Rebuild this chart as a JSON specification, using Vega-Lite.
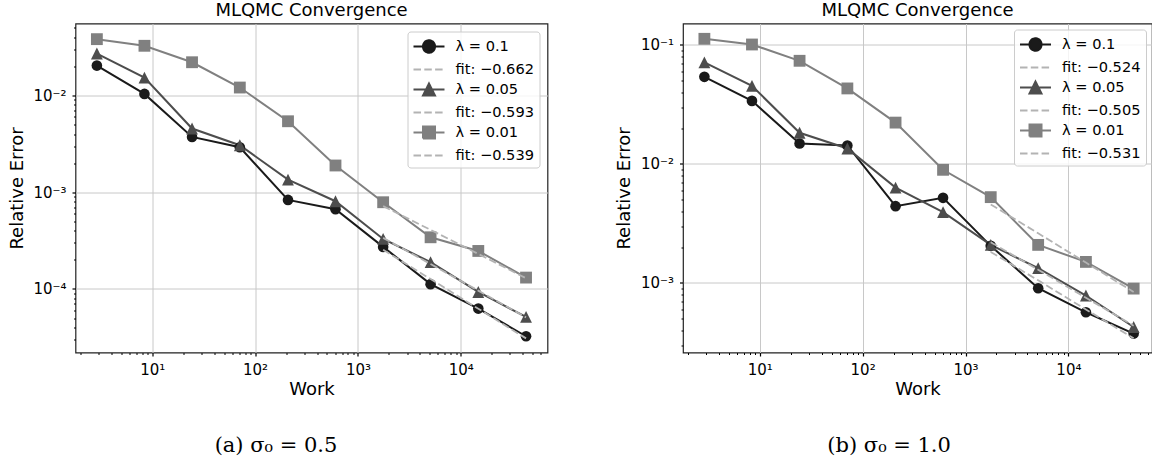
{
  "$schema": "https://vega.github.io/schema/vega-lite/v6.json",
  "padding": {"left": 7.5, "top": 0.5, "right": 0, "bottom": 0},
  "spacing": 66.5,
  "datasets": {
    "a": [
      {"series": "λ = 0.1", "kind": "data", "work": 2.90, "err": 0.0204},
      {"series": "λ = 0.1", "kind": "data", "work": 8.41, "err": 0.0104},
      {"series": "λ = 0.1", "kind": "data", "work": 24.4, "err": 0.00373},
      {"series": "λ = 0.1", "kind": "data", "work": 71.1, "err": 0.00292},
      {"series": "λ = 0.1", "kind": "data", "work": 209, "err": 0.000833},
      {"series": "λ = 0.1", "kind": "data", "work": 605, "err": 0.000667},
      {"series": "λ = 0.1", "kind": "data", "work": 1758, "err": 0.000272},
      {"series": "λ = 0.1", "kind": "data", "work": 5082, "err": 0.000112},
      {"series": "λ = 0.1", "kind": "data", "work": 14790, "err": 0.0000626},
      {"series": "λ = 0.1", "kind": "data", "work": 43050, "err": 0.0000324},
      {"series": "λ = 0.05", "kind": "data", "work": 2.90, "err": 0.0272},
      {"series": "λ = 0.05", "kind": "data", "work": 8.41, "err": 0.0153},
      {"series": "λ = 0.05", "kind": "data", "work": 24.4, "err": 0.00456},
      {"series": "λ = 0.05", "kind": "data", "work": 71.1, "err": 0.00306},
      {"series": "λ = 0.05", "kind": "data", "work": 209, "err": 0.00135},
      {"series": "λ = 0.05", "kind": "data", "work": 605, "err": 0.000807},
      {"series": "λ = 0.05", "kind": "data", "work": 1758, "err": 0.000329},
      {"series": "λ = 0.05", "kind": "data", "work": 5082, "err": 0.000189},
      {"series": "λ = 0.05", "kind": "data", "work": 14790, "err": 0.000093},
      {"series": "λ = 0.05", "kind": "data", "work": 43050, "err": 0.0000513},
      {"series": "λ = 0.01", "kind": "data", "work": 2.90, "err": 0.0383},
      {"series": "λ = 0.01", "kind": "data", "work": 8.41, "err": 0.0327},
      {"series": "λ = 0.01", "kind": "data", "work": 24.4, "err": 0.0221},
      {"series": "λ = 0.01", "kind": "data", "work": 71.1, "err": 0.0121},
      {"series": "λ = 0.01", "kind": "data", "work": 209, "err": 0.00542},
      {"series": "λ = 0.01", "kind": "data", "work": 605, "err": 0.00189},
      {"series": "λ = 0.01", "kind": "data", "work": 1758, "err": 0.000788},
      {"series": "λ = 0.01", "kind": "data", "work": 5082, "err": 0.000342},
      {"series": "λ = 0.01", "kind": "data", "work": 14790, "err": 0.000247},
      {"series": "λ = 0.01", "kind": "data", "work": 43050, "err": 0.000131},
      {"series": "fit: −0.662", "kind": "fit", "work": 1758, "err": 0.000254},
      {"series": "fit: −0.662", "kind": "fit", "work": 5082, "err": 0.0001265},
      {"series": "fit: −0.662", "kind": "fit", "work": 14790, "err": 0.0000624},
      {"series": "fit: −0.662", "kind": "fit", "work": 43050, "err": 0.0000308},
      {"series": "fit: −0.593", "kind": "fit", "work": 1758, "err": 0.000337},
      {"series": "fit: −0.593", "kind": "fit", "work": 5082, "err": 0.000181},
      {"series": "fit: −0.593", "kind": "fit", "work": 14790, "err": 0.000096},
      {"series": "fit: −0.593", "kind": "fit", "work": 43050, "err": 0.0000508},
      {"series": "fit: −0.539", "kind": "fit", "work": 1758, "err": 0.000719},
      {"series": "fit: −0.539", "kind": "fit", "work": 5082, "err": 0.000408},
      {"series": "fit: −0.539", "kind": "fit", "work": 14790, "err": 0.00023},
      {"series": "fit: −0.539", "kind": "fit", "work": 43050, "err": 0.000129}
    ],
    "b": [
      {"series": "λ = 0.1", "kind": "data", "work": 2.90, "err": 0.0538},
      {"series": "λ = 0.1", "kind": "data", "work": 8.41, "err": 0.0338},
      {"series": "λ = 0.1", "kind": "data", "work": 24.4, "err": 0.01483},
      {"series": "λ = 0.1", "kind": "data", "work": 71.1, "err": 0.01426},
      {"series": "λ = 0.1", "kind": "data", "work": 209, "err": 0.00441},
      {"series": "λ = 0.1", "kind": "data", "work": 605, "err": 0.00518},
      {"series": "λ = 0.1", "kind": "data", "work": 1758, "err": 0.002047},
      {"series": "λ = 0.1", "kind": "data", "work": 5082, "err": 0.000902},
      {"series": "λ = 0.1", "kind": "data", "work": 14790, "err": 0.000566},
      {"series": "λ = 0.1", "kind": "data", "work": 43050, "err": 0.000375},
      {"series": "λ = 0.05", "kind": "data", "work": 2.90, "err": 0.0711},
      {"series": "λ = 0.05", "kind": "data", "work": 8.41, "err": 0.0452},
      {"series": "λ = 0.05", "kind": "data", "work": 24.4, "err": 0.01824},
      {"series": "λ = 0.05", "kind": "data", "work": 71.1, "err": 0.01346},
      {"series": "λ = 0.05", "kind": "data", "work": 209, "err": 0.00632},
      {"series": "λ = 0.05", "kind": "data", "work": 605, "err": 0.00393},
      {"series": "λ = 0.05", "kind": "data", "work": 1758, "err": 0.002085},
      {"series": "λ = 0.05", "kind": "data", "work": 5082, "err": 0.001328},
      {"series": "λ = 0.05", "kind": "data", "work": 14790, "err": 0.000783},
      {"series": "λ = 0.05", "kind": "data", "work": 43050, "err": 0.000426},
      {"series": "λ = 0.01", "kind": "data", "work": 2.90, "err": 0.1123},
      {"series": "λ = 0.01", "kind": "data", "work": 8.41, "err": 0.1006},
      {"series": "λ = 0.01", "kind": "data", "work": 24.4, "err": 0.0734},
      {"series": "λ = 0.01", "kind": "data", "work": 71.1, "err": 0.043},
      {"series": "λ = 0.01", "kind": "data", "work": 209, "err": 0.0222},
      {"series": "λ = 0.01", "kind": "data", "work": 605, "err": 0.00891},
      {"series": "λ = 0.01", "kind": "data", "work": 1758, "err": 0.00525},
      {"series": "λ = 0.01", "kind": "data", "work": 5082, "err": 0.002085},
      {"series": "λ = 0.01", "kind": "data", "work": 14790, "err": 0.0015},
      {"series": "λ = 0.01", "kind": "data", "work": 43050, "err": 0.000895},
      {"series": "fit: −0.524", "kind": "fit", "work": 1758, "err": 0.00182},
      {"series": "fit: −0.524", "kind": "fit", "work": 5082, "err": 0.00105},
      {"series": "fit: −0.524", "kind": "fit", "work": 14790, "err": 0.000598},
      {"series": "fit: −0.524", "kind": "fit", "work": 43050, "err": 0.000342},
      {"series": "fit: −0.505", "kind": "fit", "work": 1758, "err": 0.00219},
      {"series": "fit: −0.505", "kind": "fit", "work": 5082, "err": 0.00129},
      {"series": "fit: −0.505", "kind": "fit", "work": 14790, "err": 0.00075},
      {"series": "fit: −0.505", "kind": "fit", "work": 43050, "err": 0.000437},
      {"series": "fit: −0.531", "kind": "fit", "work": 1758, "err": 0.00456},
      {"series": "fit: −0.531", "kind": "fit", "work": 5082, "err": 0.00261},
      {"series": "fit: −0.531", "kind": "fit", "work": 14790, "err": 0.00148},
      {"series": "fit: −0.531", "kind": "fit", "work": 43050, "err": 0.000838}
    ]
  },
  "hconcat": [
    {
      "width": 472,
      "height": 329,
      "title": "MLQMC Convergence",
      "data": {"name": "a"},
      "resolve": {"axis": {"x": "independent", "y": "independent"}},
      "layer": [
        {
          "transform": [{"filter": "datum.kind === 'data'"}],
          "mark": {"type": "line", "strokeWidth": 2},
          "encoding": {
            "x": {"field": "work", "type": "quantitative", "scale": {"type": "log", "domain": [1.797, 69590], "nice": false},
              "axis": {"orient": "bottom", "values": [10, 100, 1000, 10000], "labelExpr": "datum.value < 50 ? '10¹' : datum.value < 500 ? '10²' : datum.value < 5000 ? '10³' : '10⁴'", "grid": true, "ticks": true, "tickSize": 3.5, "tickWidth": 1.2, "labelPadding": 6, "title": "Work", "titlePadding": 3, "labelFlush": false, "labelOverlap": false}},
            "y": {"field": "err", "type": "quantitative", "scale": {"type": "log", "domain": [0.000022, 0.0556], "nice": false},
              "axis": {"orient": "left", "values": [0.0001, 0.001, 0.01], "labelExpr": "datum.value < 0.0005 ? '10⁻⁴' : datum.value < 0.005 ? '10⁻³' : '10⁻²'", "grid": true, "ticks": true, "tickSize": 3.5, "tickWidth": 1.2, "labelPadding": 6, "title": "Relative Error", "titlePadding": 6.5, "labelOverlap": false}},
            "color": {"field": "series", "type": "nominal", "scale": {"domain": ["λ = 0.1", "λ = 0.05", "λ = 0.01"], "range": ["#1a1a1a", "#4d4d4d", "#808080"]}, "legend": null}
          }
        },
        {
          "transform": [{"filter": "datum.series === 'λ = 0.1'"}],
          "mark": {"type": "point", "shape": "circle", "filled": true, "size": 113, "color": "#1a1a1a", "opacity": 1},
          "encoding": {
            "x": {"field": "work", "type": "quantitative", "scale": {"type": "log", "domain": [1.797, 69590], "nice": false}, "axis": null},
            "y": {"field": "err", "type": "quantitative", "scale": {"type": "log", "domain": [0.000022, 0.0556], "nice": false}, "axis": null}
          }
        },
        {
          "transform": [{"filter": "datum.series === 'λ = 0.05'"}],
          "mark": {"type": "point", "shape": "M0,-1L1,1L-1,1Z", "filled": true, "size": 140, "color": "#4d4d4d", "opacity": 1},
          "encoding": {
            "x": {"field": "work", "type": "quantitative", "scale": {"type": "log", "domain": [1.797, 69590], "nice": false}, "axis": null},
            "y": {"field": "err", "type": "quantitative", "scale": {"type": "log", "domain": [0.000022, 0.0556], "nice": false}, "axis": null}
          }
        },
        {
          "transform": [{"filter": "datum.series === 'λ = 0.01'"}],
          "mark": {"type": "point", "shape": "square", "filled": true, "size": 140, "color": "#808080", "opacity": 1},
          "encoding": {
            "x": {"field": "work", "type": "quantitative", "scale": {"type": "log", "domain": [1.797, 69590], "nice": false}, "axis": null},
            "y": {"field": "err", "type": "quantitative", "scale": {"type": "log", "domain": [0.000022, 0.0556], "nice": false}, "axis": null}
          }
        },
        {
          "transform": [{"filter": "datum.kind === 'fit'"}],
          "mark": {"type": "line", "strokeWidth": 1.8, "strokeDash": [7.5, 3.3], "color": "#b3b3b3"},
          "encoding": {
            "x": {"field": "work", "type": "quantitative", "scale": {"type": "log", "domain": [1.797, 69590], "nice": false},
              "axis": {"orient": "bottom", "values": [2,3,4,5,6,7,8,9,20,30,40,50,60,70,80,90,200,300,400,500,600,700,800,900,2000,3000,4000,5000,6000,7000,8000,9000,20000,30000,40000,50000,60000], "labels": false, "grid": false, "ticks": true, "tickSize": 2, "tickWidth": 1, "title": "(a)  σ₀ = 0.5", "titleFont": "DejaVu Serif", "titleFontSize": 21, "titleFontWeight": "normal", "titleX": 200, "titleY": 98.7, "titleAlign": "center", "titleBaseline": "alphabetic", "titleAngle": 0}},
            "y": {"field": "err", "type": "quantitative", "scale": {"type": "log", "domain": [0.000022, 0.0556], "nice": false},
              "axis": {"orient": "left", "values": [0.00003,0.00004,0.00005,0.00006,0.00007,0.00008,0.00009,0.0002,0.0003,0.0004,0.0005,0.0006,0.0007,0.0008,0.0009,0.002,0.003,0.004,0.005,0.006,0.007,0.008,0.009,0.02,0.03,0.04,0.05], "labels": false, "grid": false, "ticks": true, "tickSize": 2, "tickWidth": 1, "title": null}},
            "detail": {"field": "series", "type": "nominal"}
          }
        },
        {
          "mark": {"type": "point", "opacity": 0, "filled": true},
          "encoding": {
            "x": {"field": "work", "type": "quantitative", "scale": {"type": "log", "domain": [1.797, 69590], "nice": false}, "axis": null},
            "y": {"field": "err", "type": "quantitative", "scale": {"type": "log", "domain": [0.000022, 0.0556], "nice": false}, "axis": null},
            "shape": {"field": "series", "type": "nominal",
              "scale": {"domain": ["λ = 0.1", "fit: −0.662", "λ = 0.05", "fit: −0.593", "λ = 0.01", "fit: −0.539"],
                "range": ["M-1,0H2.444M0.056,0A0.667,0.667,0,1,0,1.389,0A0.667,0.667,0,1,0,0.056,0Z", "M-1,0H2.444", "M-1,0H2.444M0.722,-0.667L1.389,0.667H0.056Z", "M-1,0H2.444", "M-1,0H2.444M0.056,-0.667H1.389V0.667H0.056Z", "M-1,0H2.444"]},
              "legend": {"orient": "top-right", "offset": 8, "title": null}},
            "fill": {"field": "series", "type": "nominal",
              "scale": {"domain": ["λ = 0.1", "fit: −0.662", "λ = 0.05", "fit: −0.593", "λ = 0.01", "fit: −0.539"],
                "range": ["#1a1a1a", "transparent", "#4d4d4d", "transparent", "#808080", "transparent"]},
              "legend": {"orient": "top-right", "offset": 8, "title": null}},
            "stroke": {"field": "series", "type": "nominal",
              "scale": {"domain": ["λ = 0.1", "fit: −0.662", "λ = 0.05", "fit: −0.593", "λ = 0.01", "fit: −0.539"],
                "range": ["#1a1a1a", "#b3b3b3", "#4d4d4d", "#b3b3b3", "#808080", "#b3b3b3"]},
              "legend": {"orient": "top-right", "offset": 8, "title": null}},
            "strokeDash": {"field": "series", "type": "nominal",
              "scale": {"domain": ["λ = 0.1", "fit: −0.662", "λ = 0.05", "fit: −0.593", "λ = 0.01", "fit: −0.539"],
                "range": [[1, 0], [7.5, 3.3], [1, 0], [7.5, 3.3], [1, 0], [7.5, 3.3]]},
              "legend": {"orient": "top-right", "offset": 8, "title": null}}
          }
        }
      ]
    },
    {
      "width": 469,
      "height": 329,
      "title": "MLQMC Convergence",
      "data": {"name": "b"},
      "resolve": {"axis": {"x": "independent", "y": "independent"}},
      "layer": [
        {
          "transform": [{"filter": "datum.kind === 'data'"}],
          "mark": {"type": "line", "strokeWidth": 2},
          "encoding": {
            "x": {"field": "work", "type": "quantitative", "scale": {"type": "log", "domain": [1.797, 64900], "nice": false},
              "axis": {"orient": "bottom", "values": [10, 100, 1000, 10000], "labelExpr": "datum.value < 50 ? '10¹' : datum.value < 500 ? '10²' : datum.value < 5000 ? '10³' : '10⁴'", "grid": true, "ticks": true, "tickSize": 3.5, "tickWidth": 1.2, "labelPadding": 6, "title": "Work", "titlePadding": 3, "labelFlush": false, "labelOverlap": false}},
            "y": {"field": "err", "type": "quantitative", "scale": {"type": "log", "domain": [0.00026, 0.151], "nice": false},
              "axis": {"orient": "left", "values": [0.001, 0.01, 0.1], "labelExpr": "datum.value < 0.005 ? '10⁻³' : datum.value < 0.05 ? '10⁻²' : '10⁻¹'", "grid": true, "ticks": true, "tickSize": 3.5, "tickWidth": 1.2, "labelPadding": 6, "title": "Relative Error", "titlePadding": 6.5, "labelOverlap": false}},
            "color": {"field": "series", "type": "nominal", "scale": {"domain": ["λ = 0.1", "λ = 0.05", "λ = 0.01"], "range": ["#1a1a1a", "#4d4d4d", "#808080"]}, "legend": null}
          }
        },
        {
          "transform": [{"filter": "datum.series === 'λ = 0.1'"}],
          "mark": {"type": "point", "shape": "circle", "filled": true, "size": 113, "color": "#1a1a1a", "opacity": 1},
          "encoding": {
            "x": {"field": "work", "type": "quantitative", "scale": {"type": "log", "domain": [1.797, 64900], "nice": false}, "axis": null},
            "y": {"field": "err", "type": "quantitative", "scale": {"type": "log", "domain": [0.00026, 0.151], "nice": false}, "axis": null}
          }
        },
        {
          "transform": [{"filter": "datum.series === 'λ = 0.05'"}],
          "mark": {"type": "point", "shape": "M0,-1L1,1L-1,1Z", "filled": true, "size": 140, "color": "#4d4d4d", "opacity": 1},
          "encoding": {
            "x": {"field": "work", "type": "quantitative", "scale": {"type": "log", "domain": [1.797, 64900], "nice": false}, "axis": null},
            "y": {"field": "err", "type": "quantitative", "scale": {"type": "log", "domain": [0.00026, 0.151], "nice": false}, "axis": null}
          }
        },
        {
          "transform": [{"filter": "datum.series === 'λ = 0.01'"}],
          "mark": {"type": "point", "shape": "square", "filled": true, "size": 140, "color": "#808080", "opacity": 1},
          "encoding": {
            "x": {"field": "work", "type": "quantitative", "scale": {"type": "log", "domain": [1.797, 64900], "nice": false}, "axis": null},
            "y": {"field": "err", "type": "quantitative", "scale": {"type": "log", "domain": [0.00026, 0.151], "nice": false}, "axis": null}
          }
        },
        {
          "transform": [{"filter": "datum.kind === 'fit'"}],
          "mark": {"type": "line", "strokeWidth": 1.8, "strokeDash": [7.5, 3.3], "color": "#b3b3b3"},
          "encoding": {
            "x": {"field": "work", "type": "quantitative", "scale": {"type": "log", "domain": [1.797, 64900], "nice": false},
              "axis": {"orient": "bottom", "values": [2,3,4,5,6,7,8,9,20,30,40,50,60,70,80,90,200,300,400,500,600,700,800,900,2000,3000,4000,5000,6000,7000,8000,9000,20000,30000,40000,50000,60000], "labels": false, "grid": false, "ticks": true, "tickSize": 2, "tickWidth": 1, "title": "(b)  σ₀ = 1.0", "titleFont": "DejaVu Serif", "titleFontSize": 21, "titleFontWeight": "normal", "titleX": 205.6, "titleY": 98.7, "titleAlign": "center", "titleBaseline": "alphabetic", "titleAngle": 0}},
            "y": {"field": "err", "type": "quantitative", "scale": {"type": "log", "domain": [0.00026, 0.151], "nice": false},
              "axis": {"orient": "left", "values": [0.0003,0.0004,0.0005,0.0006,0.0007,0.0008,0.0009,0.002,0.003,0.004,0.005,0.006,0.007,0.008,0.009,0.02,0.03,0.04,0.05,0.06,0.07,0.08,0.09], "labels": false, "grid": false, "ticks": true, "tickSize": 2, "tickWidth": 1, "title": null}},
            "detail": {"field": "series", "type": "nominal"}
          }
        },
        {
          "mark": {"type": "point", "opacity": 0, "filled": true},
          "encoding": {
            "x": {"field": "work", "type": "quantitative", "scale": {"type": "log", "domain": [1.797, 64900], "nice": false}, "axis": null},
            "y": {"field": "err", "type": "quantitative", "scale": {"type": "log", "domain": [0.00026, 0.151], "nice": false}, "axis": null},
            "shape": {"field": "series", "type": "nominal",
              "scale": {"domain": ["λ = 0.1", "fit: −0.524", "λ = 0.05", "fit: −0.505", "λ = 0.01", "fit: −0.531"],
                "range": ["M-1,0H2.444M0.056,0A0.667,0.667,0,1,0,1.389,0A0.667,0.667,0,1,0,0.056,0Z", "M-1,0H2.444", "M-1,0H2.444M0.722,-0.667L1.389,0.667H0.056Z", "M-1,0H2.444", "M-1,0H2.444M0.056,-0.667H1.389V0.667H0.056Z", "M-1,0H2.444"]},
              "legend": {"orient": "top-right", "offset": 6, "title": null}},
            "fill": {"field": "series", "type": "nominal",
              "scale": {"domain": ["λ = 0.1", "fit: −0.524", "λ = 0.05", "fit: −0.505", "λ = 0.01", "fit: −0.531"],
                "range": ["#1a1a1a", "transparent", "#4d4d4d", "transparent", "#808080", "transparent"]},
              "legend": {"orient": "top-right", "offset": 6, "title": null}},
            "stroke": {"field": "series", "type": "nominal",
              "scale": {"domain": ["λ = 0.1", "fit: −0.524", "λ = 0.05", "fit: −0.505", "λ = 0.01", "fit: −0.531"],
                "range": ["#1a1a1a", "#b3b3b3", "#4d4d4d", "#b3b3b3", "#808080", "#b3b3b3"]},
              "legend": {"orient": "top-right", "offset": 6, "title": null}},
            "strokeDash": {"field": "series", "type": "nominal",
              "scale": {"domain": ["λ = 0.1", "fit: −0.524", "λ = 0.05", "fit: −0.505", "λ = 0.01", "fit: −0.531"],
                "range": [[1, 0], [7.5, 3.3], [1, 0], [7.5, 3.3], [1, 0], [7.5, 3.3]]},
              "legend": {"orient": "top-right", "offset": 6, "title": null}}
          }
        }
      ]
    }
  ],
  "resolve": {
    "scale": {"shape": "independent", "fill": "independent", "stroke": "independent", "strokeDash": "independent"},
    "legend": {"shape": "independent", "fill": "independent", "stroke": "independent", "strokeDash": "independent"}
  },
  "config": {
    "font": "DejaVu Sans",
    "view": {"stroke": "#222222", "strokeWidth": 1.2},
    "axis": {"labelFont": "DejaVu Sans", "labelFontSize": 15, "labelColor": "#000000", "titleFont": "DejaVu Sans", "titleFontSize": 18, "titleFontWeight": "normal", "titleColor": "#000000", "tickColor": "#000000", "domain": false, "gridColor": "#c8c8c8", "gridWidth": 1},
    "title": {"font": "DejaVu Sans", "fontSize": 18, "fontWeight": "normal", "color": "#000000", "offset": 4, "baseline": "alphabetic", "anchor": "middle"},
    "legend": {
      "title": null,
      "symbolSize": 324,
      "symbolStrokeWidth": 2,
      "symbolOpacity": 1,
      "labelFont": "DejaVu Sans",
      "labelFontSize": 14.6,
      "labelColor": "#000000",
      "labelOffset": 23,
      "labelLimit": 200,
      "rowPadding": 2,
      "padding": 5,
      "fillColor": "rgba(255,255,255,0.8)",
      "strokeColor": "#cccccc",
      "cornerRadius": 3
    }
  }
}
